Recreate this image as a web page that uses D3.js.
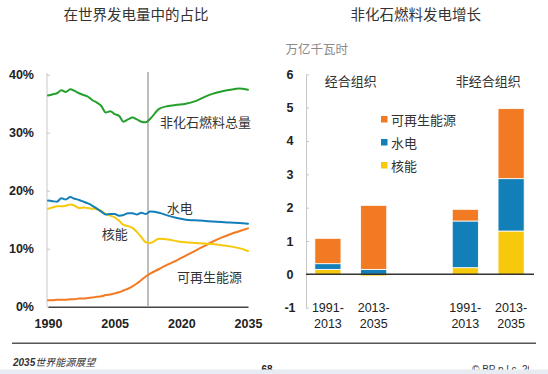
<!DOCTYPE html>
<html>
<head>
<meta charset="utf-8">
<script src="https://cdn.jsdelivr.net/npm/d3@7"></script>
<style>
  html, body { margin: 0; padding: 0; background: #fff; }
  svg { display: block; }
  .num { font-family: "Liberation Sans", Arial, sans-serif; }
  .cjk { font-family: "Noto Sans CJK SC", sans-serif; }
</style>
</head>
<body>
<div id="chart"></div>
<script>
// left panel: share of world power generation (%)
var years = [1990,1991,1992,1993,1994,1995,1996,1997,1998,1999,2000,2001,2002,2003,2004,2005,2006,2007,2008,2009,2010,2011,2012,2013,
             2015,2017,2019,2021,2023,2025,2027,2029,2031,2033,2035];
var nonFossil = [36.4,36.6,36.8,37.3,37.0,37.5,37.2,36.8,36.5,36.2,35.6,35.2,34.6,33.5,33.7,33.2,32.9,31.9,32.3,32.6,32.3,31.9,31.8,32.4,
                 34.1,34.6,34.8,35.0,35.4,36.1,36.7,37.1,37.4,37.6,37.4];
var hydro = [18.3,18.2,18.1,18.7,18.5,18.9,18.6,18.4,18.1,17.8,17.4,16.9,16.4,15.9,16.0,16.0,15.7,15.8,16.1,16.1,15.9,16.2,16.0,16.4,
             16.2,15.7,15.3,15.0,14.9,14.8,14.7,14.6,14.5,14.45,14.3];
var nuclear = [16.9,17.1,17.3,17.3,17.4,17.6,17.4,17.0,17.1,17.0,16.9,16.8,16.5,16.0,15.7,15.4,14.8,14.1,13.9,13.6,12.9,12.0,11.1,11.0,
               11.7,11.6,11.3,11.1,11.0,10.9,10.8,10.6,10.4,10.1,9.6];
var renewables = [1.1,1.1,1.2,1.2,1.2,1.3,1.3,1.4,1.4,1.5,1.6,1.7,1.8,2.0,2.1,2.3,2.5,2.8,3.1,3.5,4.0,4.6,5.2,5.7,
                  6.5,7.3,8.0,8.8,9.6,10.4,11.2,11.9,12.5,13.0,13.5];
var projectionStart = 2012.5;
var shareTicks = [0,10,20,30,40];
var yearTicks = [1990,2005,2020,2035];

// right panel: growth of non-fossil generation (thousand TWh)
var periods = ["1991-2013","2013-2035","","1991-2013","2013-2035"];
var barNuclear = [0.15,-0.05,null,0.2,1.3];
var barHydro = [0.17,0.15,null,1.4,1.57];
var barRenew = [0.76,1.92,null,0.35,2.1];
var growthTicks = [-1,0,1,2,3,4,5,6];

var colors = {nonFossil:"#24a02a", hydro:"#127fb8", nuclear:"#f7c80c", renew:"#f27a22"};

var W = 548, H = 374;
var svg = d3.select("#chart").append("svg").attr("width", W).attr("height", H);

// ---------- left chart ----------
var x = d3.scaleLinear().domain([1990,2035]).range([48,248]);
var y = d3.scaleLinear().domain([0,40]).range([306.7,74.7]);

svg.append("text").attr("class","cjk").attr("x",136).attr("y",13.5)
  .attr("text-anchor","middle").attr("dominant-baseline","central")
  .attr("font-size",14.5).attr("fill","#333").text("在世界发电量中的占比");

var yAxis = d3.axisLeft(y).tickValues(shareTicks).tickFormat(function(d){ return d + "%"; })
  .tickSizeInner(-3).tickSizeOuter(0).tickPadding(13);
var gy = svg.append("g").attr("transform","translate(47,0)").call(yAxis);
gy.select(".domain").attr("stroke","#c8c8c8").attr("d","M0,73V306.7");
gy.selectAll(".tick line").attr("stroke","#c8c8c8");
gy.selectAll("text").attr("class","num").attr("font-size",12.5).attr("font-weight","bold").attr("fill","#222");

var xAxis = d3.axisBottom(x).tickValues(yearTicks).tickFormat(String)
  .tickSize(0).tickPadding(12.8);
var gx = svg.append("g").attr("transform","translate(0,306.7)").call(xAxis);
gx.select(".domain").attr("stroke","#444").attr("stroke-width",1.5);
gx.selectAll("text").attr("class","num").attr("font-size",12.5).attr("font-weight","bold").attr("fill","#222");

svg.append("line").attr("x1",x(projectionStart)).attr("x2",x(projectionStart))
  .attr("y1",72).attr("y2",306.7).attr("stroke","#a8a8a8").attr("stroke-width",1.5);

var line = d3.line().curve(d3.curveMonotoneX)
  .x(function(d){ return x(d[0]); })
  .y(function(d){ return y(d[1]); });

function drawSeries(vals, color) {
  svg.append("path")
    .datum(years.map(function(yr,i){ return [yr, vals[i]]; }))
    .attr("fill","none").attr("stroke",color).attr("stroke-width",2)
    .attr("stroke-linejoin","round").attr("stroke-linecap","round")
    .attr("d", line);
}
drawSeries(renewables, colors.renew);
drawSeries(nuclear, colors.nuclear);
drawSeries(hydro, colors.hydro);
drawSeries(nonFossil, colors.nonFossil);

var lineLabels = [
  {t:"非化石燃料总量", yr:2015.2, v:32.0},
  {t:"水电", yr:2016.7, v:17.1},
  {t:"核能", yr:2002.1, v:12.65},
  {t:"可再生能源", yr:2019, v:5.2}
];
svg.selectAll(".lineLabel").data(lineLabels).enter().append("text")
  .attr("class","cjk").attr("x",function(d){ return x(d.yr); }).attr("y",function(d){ return y(d.v); })
  .attr("dominant-baseline","central").attr("font-size",13).attr("fill","#333")
  .text(function(d){ return d.t; });

// ---------- right chart ----------
var xb = d3.scaleBand().domain(d3.range(periods.length)).range([305,534])
  .paddingInner(0.43).paddingOuter(0.215);
var yb = d3.scaleLinear().domain([-1,6]).range([307.7,74.3]);

svg.append("text").attr("class","cjk").attr("x",415.7).attr("y",13.5)
  .attr("text-anchor","middle").attr("dominant-baseline","central")
  .attr("font-size",14.5).attr("fill","#333").text("非化石燃料发电增长");

svg.append("text").attr("class","cjk").attr("x",285.5).attr("y",48)
  .attr("dominant-baseline","central").attr("font-size",12.5).attr("fill","#8a8a8a").text("万亿千瓦时");

var ybAxis = d3.axisLeft(yb).tickValues(growthTicks).tickFormat(String)
  .tickSizeInner(-3).tickSizeOuter(0).tickPadding(0);
var gyb = svg.append("g").attr("transform","translate(306,0)").call(ybAxis);
gyb.select(".domain").attr("stroke","#c8c8c8");
gyb.selectAll(".tick line").attr("stroke","#c8c8c8");
gyb.selectAll("text").attr("class","num").attr("x",-16).attr("text-anchor","middle")
  .attr("font-size",12.5).attr("font-weight","bold").attr("fill","#222");

var rows = periods.map(function(p,i){
  return {i:i, nuclear:barNuclear[i] || 0, hydro:barHydro[i] || 0, renew:barRenew[i] || 0, empty:barNuclear[i] === null};
});
var stack = d3.stack().keys(["nuclear","hydro","renew"]).offset(d3.stackOffsetDiverging);
var layers = stack(rows);

svg.selectAll(".layer").data(layers).enter().append("g")
  .attr("fill", function(d){ return colors[d.key]; })
  .selectAll("rect").data(function(d){ return d.filter(function(s){ return !s.data.empty; }); })
  .enter().append("rect")
  .attr("x", function(d){ return xb(d.data.i); })
  .attr("width", xb.bandwidth())
  .attr("y", function(d){ return yb(Math.max(d[0],d[1])); })
  .attr("height", function(d){ return Math.abs(yb(d[0]) - yb(d[1])); })
  .attr("stroke","#fff").attr("stroke-width",0.8);

svg.append("line").attr("x1",306).attr("x2",534).attr("y1",yb(0)).attr("y2",yb(0))
  .attr("stroke","#333").attr("stroke-width",1.5);

periods.forEach(function(p,i){
  if (!p) return;
  var parts = p.split("-");
  var t = svg.append("text").attr("class","num").attr("text-anchor","middle")
    .attr("font-size",12.5).attr("fill","#222");
  t.append("tspan").attr("x", xb(i) + xb.bandwidth()/2).attr("y",312).text(parts[0] + "-");
  t.append("tspan").attr("x", xb(i) + xb.bandwidth()/2).attr("y",328).text(parts[1]);
});

var groups = [{t:"经合组织", a:0, b:1}, {t:"非经合组织", a:3, b:4}];
groups.forEach(function(g){
  var cx = (xb(g.a) + xb(g.b) + xb.bandwidth()) / 2;
  svg.append("text").attr("class","cjk").attr("x",cx).attr("y",80)
    .attr("text-anchor","middle").attr("dominant-baseline","central")
    .attr("font-size",13).attr("fill","#333").text(g.t);
});

var legendItems = [{k:"renew", t:"可再生能源"}, {k:"hydro", t:"水电"}, {k:"nuclear", t:"核能"}];
legendItems.forEach(function(d,i){
  var cy = 119 + i*23;
  svg.append("rect").attr("x",381).attr("y",cy-3).attr("width",6.5).attr("height",6.5).attr("fill",colors[d.k]);
  svg.append("text").attr("class","cjk").attr("x",391).attr("y",cy)
    .attr("dominant-baseline","central").attr("font-size",13).attr("fill","#333").text(d.t);
});

// ---------- footer ----------
svg.append("line").attr("x1",12).attr("x2",536).attr("y1",343.3).attr("y2",343.3)
  .attr("stroke","#555").attr("stroke-width",1.5);

var foot = svg.append("text").attr("x",13).attr("y",366).attr("font-size",10)
  .attr("font-style","italic").attr("fill","#333");
foot.append("tspan").attr("class","num").attr("font-weight","bold").text("2035");
foot.append("tspan").attr("class","cjk").text("世界能源展望");

svg.append("text").attr("class","num").attr("x",267).attr("y",373).attr("text-anchor","middle")
  .attr("font-size",10).attr("font-weight","bold").attr("fill","#222").text("68");

svg.append("clipPath").attr("id","cpr").append("rect").attr("x",0).attr("y",0).attr("width",529).attr("height",H);
svg.append("text").attr("class","num").attr("x",472).attr("y",373).attr("clip-path","url(#cpr)")
  .attr("font-size",10).attr("fill","#333").text("© BP p.l.c. 2015");

svg.append("rect").attr("x",0).attr("y",369.5).attr("width",W).attr("height",H-369.5).attr("fill","#e6ecf1");
</script>
</body>
</html>
